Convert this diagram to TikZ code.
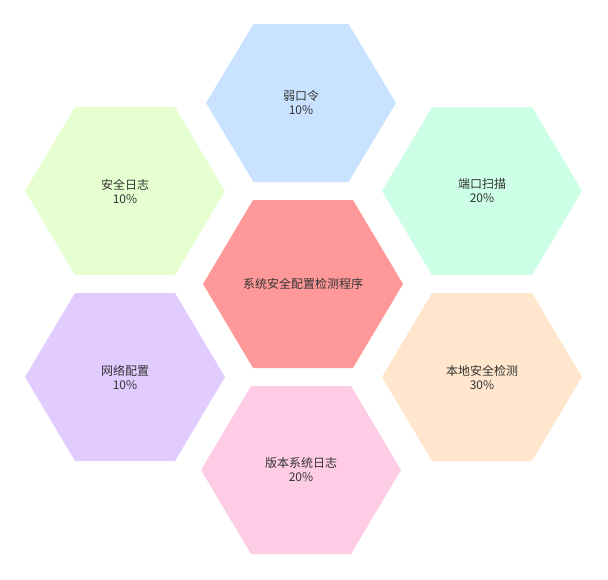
\documentclass[tikz,border=0pt]{standalone}
\usepackage{fontspec}
\newfontfamily\cjk{Noto Sans CJK SC}
\definecolor{txt}{HTML}{333333}
\definecolor{cmid}{HTML}{FF9999}
\definecolor{ctop}{HTML}{C8E2FF}
\definecolor{ctl}{HTML}{E6FFD0}
\definecolor{ctr}{HTML}{CCFFE6}
\definecolor{cbl}{HTML}{E2CCFF}
\definecolor{cbr}{HTML}{FFE6CC}
\definecolor{cbot}{HTML}{FFCCE6}
% #1 name, #2 cx, #3 cy, #4 half width, #5 half height, #6 colour, #7 text
\newcommand{\hexcell}[7]{%
  \fill[#6] (#2-#4,#3) -- (#2-#4/2,#3+#5) -- (#2+#4/2,#3+#5)
            -- (#2+#4,#3) -- (#2+#4/2,#3-#5) -- (#2-#4/2,#3-#5) -- cycle;
  \node[label] (#1) at (#2,#3) {#7};
}
\tikzset{label/.style={text=txt,font=\cjk\fontsize{12}{14}\selectfont,align=center}}
\begin{document}
\begin{tikzpicture}[x=1pt,y=-1pt]
        \useasboundingbox (0,0) rectangle (608,579);

        \hexcell{mid}{303}{284}{100}{84}{cmid}{系统安全配置检测程序}
        \hexcell{top}{301}{103}{95}{79}{ctop}{弱口令\\10\%}
        \hexcell{tl}{125}{191}{100}{84}{ctl}{安全日志\\10\%}
        \hexcell{tr}{482}{191}{100}{84}{ctr}{端口扫描\\20\%}
        \hexcell{bl}{125}{377}{100}{84}{cbl}{网络配置\\10\%}
        \hexcell{br}{482}{377}{100}{84}{cbr}{本地安全检测\\30\%}
        \hexcell{bot}{301}{470}{100}{84}{cbot}{版本系统日志\\20\%}
\end{tikzpicture}
\end{document}
